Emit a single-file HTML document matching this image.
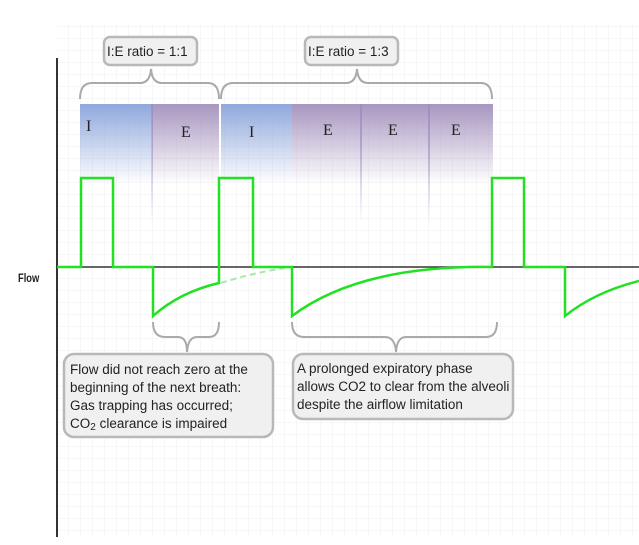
<!DOCTYPE html>
<html><head><style>
html,body{margin:0;padding:0;background:#fff;}
svg{display:block;}
text{font-family:"Liberation Sans",sans-serif;}
text.s{font-family:"Liberation Serif",serif;font-size:16px;}
</style></head><body>
<svg width="639" height="545" viewBox="0 0 639 545" xmlns="http://www.w3.org/2000/svg">
<defs>
<pattern id="g" width="12" height="12" patternUnits="userSpaceOnUse" x="57" y="3">
<path d="M12 0V12M0 12H12" stroke="#efefef" stroke-width="1" fill="none"/>
</pattern>
<linearGradient id="bl" x1="0" y1="0" x2="0" y2="1">
<stop offset="0" stop-color="#8fa8dc"/><stop offset="1" stop-color="#8fa8dc" stop-opacity="0"/>
</linearGradient>
<linearGradient id="pu" x1="0" y1="0" x2="0" y2="1">
<stop offset="0" stop-color="#a896c0"/><stop offset="1" stop-color="#a896c0" stop-opacity="0"/>
</linearGradient>
<linearGradient id="ln" x1="0" y1="0" x2="0" y2="1">
<stop offset="0" stop-color="#9a92c4"/><stop offset="1" stop-color="#9a92c4" stop-opacity="0"/>
</linearGradient>
</defs>
<rect x="57" y="25" width="582" height="512" fill="url(#g)"/>
<rect x="80" y="104" width="71" height="80" fill="url(#bl)"/>
<rect x="152" y="104" width="67" height="80" fill="url(#pu)"/>
<rect x="221" y="104" width="71" height="80" fill="url(#bl)"/>
<rect x="292" y="104" width="69" height="80" fill="url(#pu)"/>
<rect x="361" y="104" width="68" height="80" fill="url(#pu)"/>
<rect x="429" y="104" width="64" height="80" fill="url(#pu)"/>
<rect x="151" y="104" width="2" height="120" fill="url(#ln)"/>
<rect x="360" y="104" width="2" height="120" fill="url(#ln)"/>
<rect x="428" y="104" width="2" height="120" fill="url(#ln)"/>
<g fill="#222">
<text class="s" x="86" y="131">I</text><text class="s" x="181" y="137">E</text>
<text class="s" x="249" y="137">I</text><text class="s" x="323" y="135">E</text>
<text class="s" x="388" y="135">E</text><text class="s" x="451" y="135">E</text>
</g>
<line x1="57" y1="58" x2="57" y2="537" stroke="#333" stroke-width="2"/>
<line x1="57" y1="267" x2="639" y2="267" stroke="#333" stroke-width="1.5"/>
<text x="18" y="282" font-size="11" font-weight="bold" fill="#222" transform="translate(18 282) scale(0.85 1.1) translate(-18 -282)">Flow</text>
<g stroke="#aaa" stroke-width="2" fill="none">
<path d="M80 99 Q80 83 92 83 H140 Q150 83 151 69 Q152 83 162 83 H208 Q219 83 219 99"/>
<path d="M221 99 Q221 83 233 83 H346 Q356 83 357 69 Q358 83 368 83 H481 Q492 83 492 99"/>
<path d="M153 322 Q153 337 165 337 H178 Q187 337 187 352 Q188 337 197 337 H209 Q219 337 219 322"/>
<path d="M292 322 Q292 337 304 337 H385 Q395 337 396 352 Q397 337 406 337 H486 Q497 337 497 322"/>
</g>
<path d="M221 283 Q255 272 292 267" stroke="#a5eaa5" stroke-width="2" stroke-dasharray="6,4" fill="none"/>
<path d="M57 267 H81 V178 H113 V267 H153 V316 Q180 292 219 283 V178 H253 V267 H292 V316 Q360 265 492 267 V178 H524 V267 H565 V316 Q595 292 639 281" stroke="#22e022" stroke-width="2.5" fill="none"/>
<g fill="#f0f0f0" stroke="#b8b8b8" stroke-width="2.5">
<rect x="104" y="37" width="93" height="28" rx="6"/>
<rect x="305" y="37" width="93" height="28" rx="6"/>
<rect x="64" y="354" width="209" height="83" rx="10"/>
<rect x="293" y="354" width="220" height="65" rx="10"/>
</g>
<g font-size="13.5" fill="#222">
<text x="107" y="56">I:E ratio = 1:1</text>
<text x="308" y="56">I:E ratio = 1:3</text>
<text x="70" y="374">Flow did not reach zero at the</text>
<text x="70" y="392">beginning of the next breath:</text>
<text x="70" y="410">Gas trapping has occurred;</text>
<text x="70" y="428">CO<tspan font-size="10" dy="2">2</tspan><tspan dy="-2"> clearance is impaired</tspan></text>
<text x="297" y="373">A prolonged expiratory phase</text>
<text x="297" y="391">allows CO2 to clear from the alveoli</text>
<text x="297" y="409">despite the airflow limitation</text>
</g>
</svg>
</body></html>
